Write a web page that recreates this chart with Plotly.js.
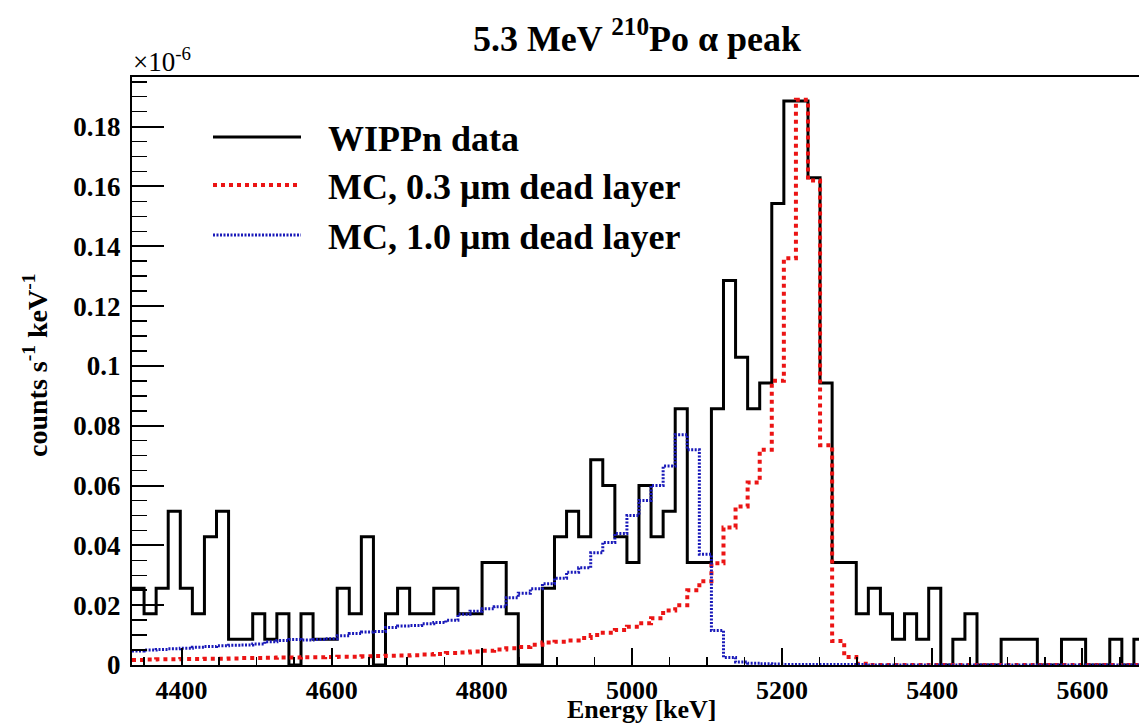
<!DOCTYPE html>
<html>
<head>
<meta charset="utf-8">
<script src="https://cdn.plot.ly/plotly-3.0.1.min.js"></script>
<style>html,body{margin:0;padding:0;background:#fff;}#chart{width:1139px;height:726px;}</style>
</head>
<body>
<div id="chart"></div>
<script>
// Histogram binning (keV)
const binStart = 4334;
const binWidth = 16.08;

// WIPPn data (counts s^-1 keV^-1, x1e-6), one value per bin
const dataValues = [
  0.0257, 0.0171, 0.0257, 0.0514, 0.0257, 0.0171, 0.0429, 0.0514, 0.0086, 0.0086,
  0.0171, 0.0086, 0.0171, 0, 0.0171, 0.0086, 0.0086, 0.0257, 0.0171, 0.0429,
  0, 0.0171, 0.0257, 0.0171, 0.0171, 0.0257, 0.0257, 0.0171, 0.0171, 0.0343,
  0.0343, 0.0171, 0, 0, 0.0257, 0.0429, 0.0514, 0.0429, 0.0686, 0.06,
  0.0429, 0.0343, 0.06, 0.0429, 0.0514, 0.0857, 0.0343, 0.0343, 0.0857, 0.1286,
  0.1029, 0.0857, 0.0943, 0.1543, 0.1886, 0.1886, 0.1629, 0.0943, 0.0343, 0.0343,
  0.0171, 0.0257, 0.0171, 0.0086, 0.0171, 0.0086, 0.0257, 0, 0.0086, 0.0171,
  0, 0, 0.0086, 0.0086, 0.0086, 0, 0, 0.0086, 0.0086, 0,
  0, 0.0086, 0, 0.0086
];

// MC, 0.3 um dead layer
const mc03Values = [
  0.0017, 0.0018, 0.0019, 0.0019, 0.0020, 0.0020, 0.0021, 0.0021, 0.0022, 0.0023,
  0.0023, 0.0024, 0.0025, 0.0025, 0.0026, 0.0026, 0.0027, 0.0028, 0.0028, 0.0029,
  0.0030, 0.0031, 0.0032, 0.0033, 0.0035, 0.0037, 0.0040, 0.0042, 0.0045, 0.0048,
  0.0052, 0.0056, 0.0060, 0.0068, 0.0075, 0.0078, 0.0082, 0.0090, 0.0100, 0.0108,
  0.0117, 0.0128, 0.0140, 0.0156, 0.0182, 0.0200, 0.0250, 0.0280, 0.0340, 0.0460,
  0.0530, 0.0610, 0.0720, 0.0950, 0.1360, 0.1890, 0.1620, 0.0735, 0.0080, 0.0027,
  0.0004, 0, 0, 0, 0, 0, 0, 0, 0, 0,
  0, 0, 0, 0, 0, 0, 0, 0, 0, 0,
  0, 0, 0, 0
];

// MC, 1.0 um dead layer
const mc10Values = [
  0.0047, 0.0050, 0.0052, 0.0054, 0.0056, 0.0059, 0.0062, 0.0064, 0.0066, 0.0067,
  0.0070, 0.0078, 0.0082, 0.0085, 0.0084, 0.0085, 0.0088, 0.0098, 0.0105, 0.0110,
  0.0112, 0.0125, 0.0130, 0.0132, 0.0138, 0.0142, 0.0150, 0.0170, 0.0180, 0.0188,
  0.0195, 0.0225, 0.0240, 0.0255, 0.0272, 0.0290, 0.0310, 0.0325, 0.0375, 0.0410,
  0.0440, 0.0500, 0.0550, 0.0600, 0.0665, 0.0770, 0.0720, 0.0370, 0.0115, 0.0025,
  0.0010, 0.0006, 0.0004, 0.0003, 0.0002, 0.0002, 0.0002, 0.0002, 0.0002, 0.0002,
  0.0002, 0, 0, 0, 0, 0, 0, 0, 0, 0,
  0, 0, 0, 0, 0, 0, 0, 0, 0, 0,
  0, 0, 0, 0
];

const seriesNames = ['WIPPn data', 'MC, 0.3 \u03bcm dead layer', 'MC, 1.0 \u03bcm dead layer'];
const xTickValues = [4400, 4600, 4800, 5000, 5200, 5400, 5600];
const yTickValues = [0, 0.02, 0.04, 0.06, 0.08, 0.1, 0.12, 0.14, 0.16, 0.18];
const yTickLabels = ['0', '0.02', '0.04', '0.06', '0.08', '0.1', '0.12', '0.14', '0.16', '0.18'];

function stepXY(vals) {
  const xs = [], ys = [];
  for (let i = 0; i < vals.length; i++) {
    xs.push(binStart + i * binWidth);
    ys.push(vals[i]);
  }
  xs.push(binStart + vals.length * binWidth);
  ys.push(vals[vals.length - 1]);
  return {x: xs, y: ys};
}

const FONT = 'Liberation Serif, Times New Roman, serif';
const colData = '#000000';
const col03 = 'rgb(235,20,20)';
const col10 = 'rgb(25,25,185)';

const d0 = stepXY(dataValues), d1 = stepXY(mc03Values), d2 = stepXY(mc10Values);
const traces = [
  {x: d0.x, y: d0.y, type: 'scatter', mode: 'lines', name: seriesNames[0],
   line: {shape: 'hv', color: colData, width: 3}},
  {x: d1.x, y: d1.y, type: 'scatter', mode: 'lines', name: seriesNames[1],
   line: {shape: 'hv', color: col03, width: 4, dash: '4px,4px'}},
  {x: d2.x, y: d2.y, type: 'scatter', mode: 'lines', name: seriesNames[2],
   line: {shape: 'hv', color: col10, width: 3, dash: '2px,1.5px'}}
];

const W = 1139, H = 726, L = 132, R = 0, T = 77, B = 61;
const pw = W - L - R, ph = H - T - B;
const px2x = p => (p - L) / pw;
const py2y = p => (H - B - p) / ph;

const legendRows = [137, 185, 235];
const legendStyles = [
  {color: colData, width: 3, dash: 'solid'},
  {color: col03, width: 4, dash: '4px,4px'},
  {color: col10, width: 3, dash: '2px,1.5px'}
];

const shapes = legendRows.map((r, i) => ({
  type: 'line', xref: 'paper', yref: 'paper',
  x0: px2x(213), x1: px2x(301), y0: py2y(r), y1: py2y(r),
  line: legendStyles[i]
}));

const annotations = legendRows.map((r, i) => ({
  xref: 'paper', yref: 'paper', x: px2x(326), y: py2y(r + 2),
  xanchor: 'left', yanchor: 'middle', showarrow: false,
  text: seriesNames[i],
  font: {family: FONT, size: 36, color: '#000', weight: 'bold'}
}));

annotations.push({
  xref: 'paper', yref: 'paper', x: px2x(35), y: py2y(365),
  xanchor: 'center', yanchor: 'middle', showarrow: false, textangle: -90,
  text: 'counts s<sup>-1</sup> keV<sup>-1</sup>',
  font: {family: FONT, size: 28, color: '#000', weight: 'bold'}
});
annotations.push({
  xref: 'paper', yref: 'paper', x: px2x(641), y: py2y(709),
  xanchor: 'center', yanchor: 'middle', showarrow: false,
  text: 'Energy [keV]',
  font: {family: FONT, size: 26, color: '#000', weight: 'bold'}
});
annotations.push({
  xref: 'paper', yref: 'paper', x: px2x(131), y: py2y(60),
  xanchor: 'left', yanchor: 'middle', showarrow: false,
  text: '\u00d710<sup>-6</sup>',
  font: {family: FONT, size: 27, color: '#000', weight: 'normal'}
});

const tickFontX = {family: FONT, size: 26, color: '#000', weight: 'bold'};
const tickFontY = {family: FONT, size: 27, color: '#000', weight: 'bold'};

const layout = {
  width: W, height: H,
  margin: {l: L, r: R, t: T, b: B, pad: 0},
  paper_bgcolor: '#fff', plot_bgcolor: '#fff',
  showlegend: false,
  title: {
    text: '5.3 MeV <sup>210</sup>Po \u03b1 peak',
    font: {family: FONT, size: 36, color: '#000', weight: 'bold'},
    x: 637 / W, xanchor: 'center', xref: 'container',
    y: 1 - 38 / H, yanchor: 'middle', yref: 'container'
  },
  xaxis: {
    range: [binStart, binStart + pw / 0.7507],
    tickmode: 'array', tickvals: xTickValues, ticktext: xTickValues.map(String),
    ticks: 'inside', ticklen: 17, tickwidth: 2, tickcolor: '#000',
    minor: {tick0: 4400, dtick: 50, ticks: 'inside', ticklen: 8, tickwidth: 1.5, tickcolor: '#000', showgrid: false},
    showline: true, linewidth: 2, linecolor: '#000', mirror: true,
    showgrid: false, zeroline: false, tickfont: tickFontX, ticklabelstandoff: 1
  },
  yaxis: {
    range: [0, 0.1966],
    tickmode: 'array', tickvals: yTickValues, ticktext: yTickLabels,
    ticks: 'inside', ticklen: 32, tickwidth: 2, tickcolor: '#000',
    minor: {tick0: 0, dtick: 0.005, ticks: 'inside', ticklen: 15, tickwidth: 1.5, tickcolor: '#000', showgrid: false},
    showline: true, linewidth: 2, linecolor: '#000', mirror: false,
    showgrid: false, zeroline: false, tickfont: tickFontY, ticklabelstandoff: 4
  },
  shapes: shapes,
  annotations: annotations
};

Plotly.newPlot('chart', traces, layout, {displayModeBar: false, staticPlot: true});
</script>
</body>
</html>
